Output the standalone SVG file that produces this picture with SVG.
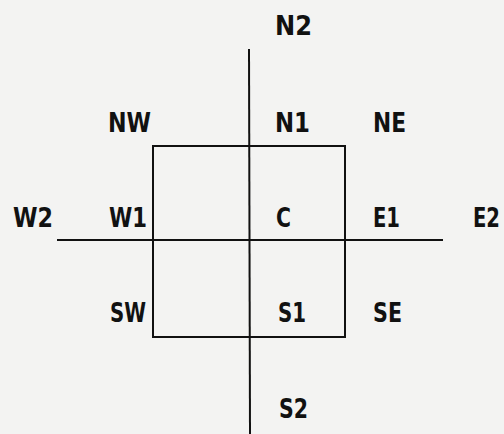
<svg xmlns="http://www.w3.org/2000/svg" width="504" height="434" viewBox="0 0 504 434">
<style>
.l{font-family:"DejaVu Sans Condensed","DejaVu Sans",sans-serif;font-weight:bold;font-size:26px;fill:#111}
.ln{stroke:#111;stroke-width:2;fill:none}
</style>
<rect width="504" height="434" fill="#f3f3f2"/>
<g id="connectors">
<line class="ln" x1="249" y1="49" x2="250" y2="434"/>
<line class="ln" x1="57" y1="240" x2="443" y2="240"/>
<rect class="ln" x="153" y="146" width="192" height="191"/>
</g>
<g id="N2"><text class="l" x="275" y="35" textLength="37" lengthAdjust="spacingAndGlyphs">N2</text></g>
<g id="NW"><text class="l" x="108" y="132" textLength="43" lengthAdjust="spacingAndGlyphs">NW</text></g>
<g id="N1"><text class="l" x="275" y="132" textLength="35" lengthAdjust="spacingAndGlyphs">N1</text></g>
<g id="NE"><text class="l" x="373" y="132" textLength="33" lengthAdjust="spacingAndGlyphs">NE</text></g>
<g id="W2"><text class="l" x="13" y="227" textLength="40" lengthAdjust="spacingAndGlyphs">W2</text></g>
<g id="W1"><text class="l" x="109" y="227" textLength="38" lengthAdjust="spacingAndGlyphs">W1</text></g>
<g id="C"><text class="l" x="276" y="227" textLength="15" lengthAdjust="spacingAndGlyphs">C</text></g>
<g id="E1"><text class="l" x="373" y="227" textLength="27" lengthAdjust="spacingAndGlyphs">E1</text></g>
<g id="E2"><text class="l" x="473" y="227" textLength="27" lengthAdjust="spacingAndGlyphs">E2</text></g>
<g id="SW"><text class="l" x="110" y="322" textLength="36" lengthAdjust="spacingAndGlyphs">SW</text></g>
<g id="S1"><text class="l" x="278" y="322" textLength="28" lengthAdjust="spacingAndGlyphs">S1</text></g>
<g id="SE"><text class="l" x="373" y="322" textLength="29" lengthAdjust="spacingAndGlyphs">SE</text></g>
<g id="S2"><text class="l" x="279" y="418" textLength="29" lengthAdjust="spacingAndGlyphs">S2</text></g>
</svg>
